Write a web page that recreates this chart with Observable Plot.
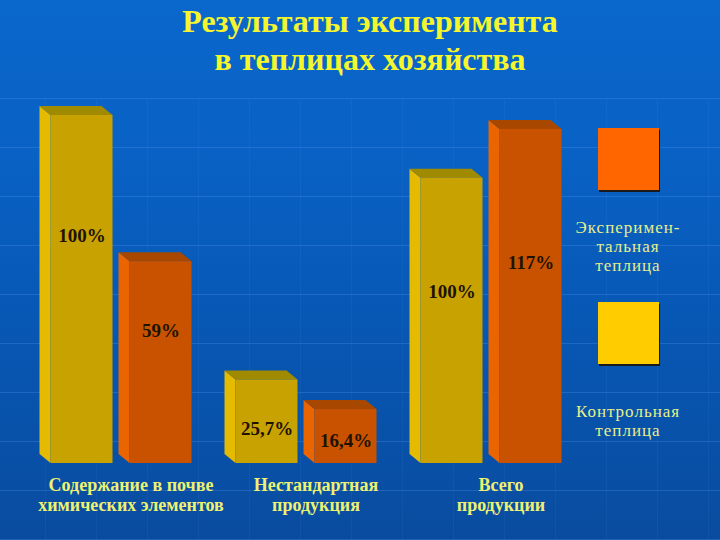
<!DOCTYPE html>
<html>
<head>
<meta charset="utf-8">
<script src="https://cdn.jsdelivr.net/npm/d3@7"></script>
<script src="https://cdn.jsdelivr.net/npm/@observablehq/plot@0.6"></script>
<style>
  html, body { margin: 0; padding: 0; }
  body {
    width: 720px; height: 540px; overflow: hidden; position: relative;
    background: linear-gradient(to bottom, #0a67cc 0%, #0961c4 30%, #0757b4 60%, #094c9f 100%);
    font-family: "Liberation Serif", serif;
  }
  #grid {
    position: absolute; left: 0; top: 98px; width: 720px; height: 442px;
    background:
      repeating-linear-gradient(to bottom, rgba(110,170,255,0.22) 0 1px, transparent 1px 49px),
      repeating-linear-gradient(to right, transparent 0 45px, rgba(110,170,255,0.07) 45px 46px, transparent 46px 51px);
  }
  #title {
    position: absolute; left: 10px; top: 2px; width: 720px; text-align: center;
    font: bold 32px/38px "Liberation Serif", serif; color: #f6f62c;
  }
  #chart { position: absolute; left: 0; top: 88px; }
  .sw { position: absolute; width: 61px; height: 62px; box-shadow: 1px 2px 0 #1a1a1a; }
  .lg { position: absolute; width: 160px; text-align: center; letter-spacing: 1px;
        font: 17px/19px "Liberation Serif", serif; color: #e6ef8a; }
</style>
</head>
<body>
<div id="grid"></div>
<div id="title">Результаты эксперимента<br>в теплицах хозяйства</div>
<div id="chart"></div>
<div id="legend"></div>
<script>
// ---- data ----
const categories = ["Содержание в почве\nхимических элементов", "Нестандартная\nпродукция", "Всего\nпродукции"];
const seriesNames = ["Контрольная\nтеплица", "Эксперимен-\nтальная\nтеплица"];
const controlHeights = [100, 24, 82];        // drawn bar heights (tallest bar = 100)
const experimentalHeights = [58, 15.5, 96];
const controlLabels = ["100%", "25,7%", "100%"];
const experimentalLabels = ["59%", "16,4%", "117%"];

// ---- styling ----
const faces = [
  {front: "#c8a200", side: "#e4bb00", topFace: "#a08a00", swatch: "#ffcc00"},
  {front: "#c85200", side: "#ea6400", topFace: "#a84800", swatch: "#ff6600"}
];
const labelFrac = [0.655, 0.42, 0.6];   // where the value label sits inside the bar, per category

const W = 720, H = 452;
const unit = 79;                         // px per x unit (one bar slot)
const groupStart = 121 / unit, groupPitch = 185 / unit;
const halfW = 31 / unit;
const yPx = 348 / 100;                   // px per y unit
const DX = 11 / unit, DY = 9 / yPx;      // oblique depth

const rows = [];
categories.forEach((c, g) => {
  [[controlHeights, controlLabels], [experimentalHeights, experimentalLabels]].forEach(([hs, ls], s) => {
    const cx = groupStart + g * groupPitch + (s - 0.5);
    rows.push({g, s, id: g * 2 + s, cx, x0: cx - halfW, x1: cx + halfW, h: hs[g], label: ls[g]});
  });
});

const sidePts = rows.flatMap(r => [
  {id: r.id, s: r.s, x: r.x0 - DX, y1: DY, y2: r.h + DY},
  {id: r.id, s: r.s, x: r.x0, y1: 0, y2: r.h}
]);
const topPts = rows.flatMap(r => [
  {id: r.id, s: r.s, x: r.x0 - DX, y1: r.h + DY, y2: r.h + DY},
  {id: r.id, s: r.s, x: r.x0, y1: r.h, y2: r.h + DY},
  {id: r.id, s: r.s, x: r.x1 - DX, y1: r.h, y2: r.h + DY},
  {id: r.id, s: r.s, x: r.x1, y1: r.h, y2: r.h}
]);

const marks = [];
[0, 1].forEach(s => {
  marks.push(Plot.area(sidePts.filter(d => d.s === s), {x1: "x", y1: "y1", y2: "y2", z: "id", fill: faces[s].side}));
  marks.push(Plot.area(topPts.filter(d => d.s === s), {x1: "x", y1: "y1", y2: "y2", z: "id", fill: faces[s].topFace}));
  marks.push(Plot.rect(rows.filter(d => d.s === s), {x1: "x0", x2: "x1", y1: 0, y2: "h", fill: faces[s].front}));
});
marks.push(Plot.text(rows, {
  x: "cx", y: d => d.h * labelFrac[d.g], text: "label",
  fontSize: 19, fontWeight: "bold", fontFamily: "Liberation Serif", fill: "#1e1200"
}));
marks.push(Plot.text(categories, {
  x: (d, i) => groupStart + i * groupPitch + 0.12, y: 0, text: d => d,
  lineAnchor: "top", dy: 13, lineHeight: 1.11,
  fontSize: 18, fontWeight: "bold", fontFamily: "Liberation Serif", fill: "#eef270"
}));

const chart = Plot.plot({
  width: W, height: H,
  marginLeft: 0, marginRight: 0, marginTop: 27, marginBottom: 77,
  x: {type: "linear", domain: [0, W / unit], axis: null},
  y: {type: "linear", domain: [0, 100], axis: null},
  style: {background: "transparent", overflow: "visible"},
  marks
});
document.getElementById("chart").appendChild(chart);

// legend (experimental on top, control below)
const legend = document.getElementById("legend");
const items = [
  {name: seriesNames[1], color: faces[1].swatch, sq: 128, txt: 218},
  {name: seriesNames[0], color: faces[0].swatch, sq: 302, txt: 402}
];
items.forEach(it => {
  const sw = document.createElement("div");
  sw.className = "sw"; sw.style.left = "598px"; sw.style.top = it.sq + "px"; sw.style.background = it.color;
  legend.appendChild(sw);
  const t = document.createElement("div");
  t.className = "lg"; t.style.left = "548px"; t.style.top = it.txt + "px";
  t.innerHTML = it.name.split("\n").join("<br>");
  legend.appendChild(t);
});
</script>
</body>
</html>
